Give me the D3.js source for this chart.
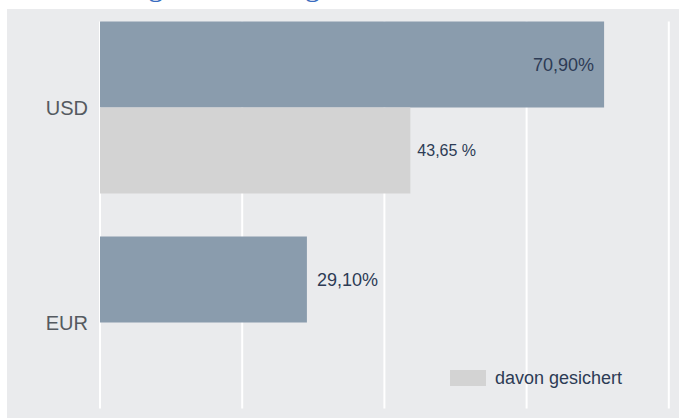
<!DOCTYPE html>
<html>
<head>
<meta charset="utf-8">
<script src="https://cdn.jsdelivr.net/npm/d3@7"></script>
<style>
  html, body { margin: 0; padding: 0; background: #fff; }
  svg { display: block; font-family: "Liberation Sans", Arial, sans-serif; }
</style>
</head>
<body>
<div id="chart"></div>
<script>
// ---- Data ----
const categories = ['USD', 'EUR'];
const totalShare = [70.90, 29.10];
const hedgedShare = [43.65, null];
const totalLabels = ['70,90%', '29,10%'];
const hedgedLabels = ['43,65 %', ''];
const xTicks = [0, 20, 40, 60, 80];
const legendLabel = 'davon gesichert';
const titleText = 'Währungsabsicherung';

const width = 679, height = 419;
const colors = { total: '#8a9cad', hedged: '#d3d3d3', panel: '#eaebed', text: '#2d3b55', axis: '#555a60' };

const svg = d3.select('#chart').append('svg')
  .attr('width', width)
  .attr('height', height);

// Title (cut off at the top of the picture)
svg.append('text')
  .attr('x', 320)
  .attr('y', -4)
  .attr('text-anchor', 'end')
  .attr('font-family', '"Liberation Serif", "DejaVu Serif", serif')
  .attr('font-size', '30px')
  .attr('fill', '#3a6cc0')
  .text(titleText);

// Panel background
svg.append('rect')
  .attr('x', 7).attr('y', 9)
  .attr('width', width - 7).attr('height', 409)
  .attr('fill', colors.panel);

// ---- Scales ----
const x = d3.scaleLinear().domain([0, 80]).range([100, 668.8]);
const y = d3.scaleBand().domain(categories).range([0, 430]).paddingInner(0.2).paddingOuter(0.1);
const ySub = d3.scaleBand().domain(['total', 'hedged']).range([0, y.bandwidth()]);

const rows = categories.map((c, i) => ({
  cat: c,
  total: totalShare[i],
  hedged: hedgedShare[i],
  totalLabel: totalLabels[i],
  hedgedLabel: hedgedLabels[i]
}));

// ---- Grid lines ----
const yTop = y(categories[0]);
const yBottom = y(categories[categories.length - 1]) + y.bandwidth();
svg.append('g')
  .selectAll('line').data(xTicks).join('line')
  .attr('x1', d => x(d)).attr('x2', d => x(d))
  .attr('y1', yTop).attr('y2', yBottom)
  .attr('stroke', '#fff')
  .attr('stroke-width', 2);

// ---- Y axis (category labels) ----
const yAxis = d3.axisLeft(y).tickSize(0).tickPadding(12);
svg.append('g')
  .attr('transform', `translate(${x(0)},0)`)
  .call(yAxis)
  .call(g => g.select('.domain').remove())
  .call(g => g.selectAll('text')
    .attr('font-family', '"Liberation Sans", Arial, sans-serif')
    .attr('font-size', '20px')
    .attr('fill', colors.axis)
    .attr('dy', null)
    .attr('dominant-baseline', 'central'));

// ---- Bars ----
const groups = svg.append('g')
  .selectAll('g').data(rows).join('g')
  .attr('transform', d => `translate(0,${y(d.cat)})`);

groups.append('rect')
  .attr('x', x(0))
  .attr('y', ySub('total'))
  .attr('width', d => x(d.total) - x(0))
  .attr('height', ySub.bandwidth())
  .attr('fill', colors.total);

groups.filter(d => d.hedged != null).append('rect')
  .attr('x', x(0))
  .attr('y', ySub('hedged'))
  .attr('width', d => x(d.hedged) - x(0))
  .attr('height', ySub.bandwidth())
  .attr('fill', colors.hedged);

// ---- Value labels ----
groups.append('text')
  .attr('x', d => d.total > 50 ? x(d.total) - 10 : x(d.total) + 10)
  .attr('y', ySub('total') + ySub.bandwidth() / 2)
  .attr('text-anchor', d => d.total > 50 ? 'end' : 'start')
  .attr('dominant-baseline', 'central')
  .attr('font-size', '18px')
  .attr('fill', colors.text)
  .text(d => d.totalLabel);

groups.filter(d => d.hedged != null).append('text')
  .attr('x', d => x(d.hedged) + 7)
  .attr('y', ySub('hedged') + ySub.bandwidth() / 2)
  .attr('dominant-baseline', 'central')
  .attr('font-size', '16px')
  .attr('fill', colors.text)
  .text(d => d.hedgedLabel);

// ---- Legend ----
const legend = svg.append('g').attr('transform', 'translate(450,370)');
legend.append('rect')
  .attr('width', 36).attr('height', 16)
  .attr('fill', colors.hedged);
legend.append('text')
  .attr('x', 45).attr('y', 8)
  .attr('dominant-baseline', 'central')
  .attr('font-size', '18px')
  .attr('fill', colors.text)
  .text(legendLabel);
</script>
</body>
</html>
